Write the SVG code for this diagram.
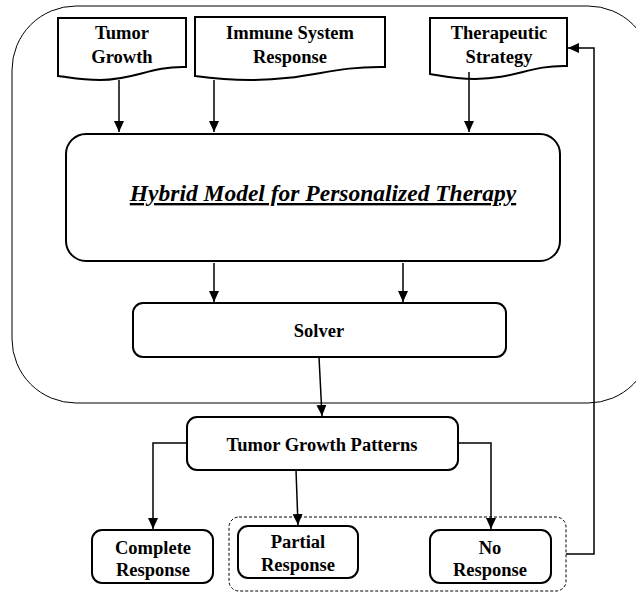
<svg xmlns="http://www.w3.org/2000/svg" width="636" height="592" viewBox="0 0 636 592">
<style>
.box{fill:#fff;stroke:#000;stroke-width:2}
.doc{fill:#fff;stroke:#000;stroke-width:2;stroke-linejoin:miter}
.t{font-family:"Liberation Serif","Times New Roman",serif;font-weight:bold;font-size:18.5px;text-anchor:middle;fill:#000}
.title{font-family:"Liberation Serif","Times New Roman",serif;font-weight:bold;font-style:italic;font-size:23.5px;text-anchor:middle;text-decoration:underline;fill:#000}
.c{fill:none;stroke:#000;stroke-width:1.5}
</style>
<defs>
<marker id="ah" markerUnits="userSpaceOnUse" markerWidth="12" markerHeight="10" refX="11" refY="5" orient="auto">
<path d="M0,0 L11,5 L0,10 Z" fill="#000"/>
</marker>
</defs>
<rect width="636" height="592" fill="#fff"/>
<g id="outer-boundary">
<rect x="12" y="6" width="640" height="397" rx="64" ry="64" fill="none" stroke="#000" stroke-width="1"/>
</g>
<g id="tumor-growth">
<path class="doc" d="M58,18 H186 V67 C150,66 135,80 100,80 C80,80 68,77 58,76 Z"/>
<text class="t" x="122" y="39">Tumor</text>
<text class="t" x="122" y="63">Growth</text>
</g>
<g id="immune-system-response">
<path class="doc" d="M195,17 H385 V67 C330,66 310,80 250,80 C225,80 210,78 195,76 Z"/>
<text class="t" x="290" y="39">Immune System</text>
<text class="t" x="290" y="63">Response</text>
</g>
<g id="therapeutic-strategy">
<path class="doc" d="M430,18 H567 V66 C530,65 515,79 475,79 C455,79 442,76 430,74 Z"/>
<text class="t" x="499" y="39">Therapeutic</text>
<text class="t" x="499" y="63">Strategy</text>
</g>
<g id="hybrid-model">
<rect class="box" x="66" y="134" width="494" height="127" rx="20" ry="20"/>
<text class="title" x="323" y="201">Hybrid Model for Personalized Therapy</text>
</g>
<g id="solver">
<rect class="box" x="133" y="303" width="373" height="54" rx="10" ry="10"/>
<text class="t" x="319" y="337">Solver</text>
</g>
<g id="tumor-growth-patterns">
<rect class="box" x="187" y="417" width="271" height="53" rx="10" ry="10"/>
<text class="t" x="322" y="451">Tumor Growth Patterns</text>
</g>
<g id="response-group">
<rect x="229" y="517" width="337" height="74" rx="10" ry="10" fill="none" stroke="#000" stroke-width="1" stroke-dasharray="3,2"/>
</g>
<g id="complete-response">
<rect class="box" x="92" y="530" width="121" height="53" rx="10" ry="10"/>
<text class="t" x="153" y="554">Complete</text>
<text class="t" x="153" y="576">Response</text>
</g>
<g id="partial-response">
<rect class="box" x="238" y="526" width="120" height="52" rx="10" ry="10"/>
<text class="t" x="298" y="548">Partial</text>
<text class="t" x="298" y="571">Response</text>
</g>
<g id="no-response">
<rect class="box" x="430" y="530" width="121" height="53" rx="10" ry="10"/>
<text class="t" x="490" y="554">No</text>
<text class="t" x="490" y="576">Response</text>
</g>
<g id="connectors">
<path class="c" d="M119,80 V132" marker-end="url(#ah)"/>
<path class="c" d="M214,80 V132" marker-end="url(#ah)"/>
<path class="c" d="M469,72 V132" marker-end="url(#ah)"/>
<path class="c" d="M214,263 V302" marker-end="url(#ah)"/>
<path class="c" d="M403,263 V302" marker-end="url(#ah)"/>
<path class="c" d="M319,357 L322,416" marker-end="url(#ah)"/>
<path class="c" d="M187,443 H153 V529" marker-end="url(#ah)"/>
<path class="c" d="M296,470 L298,525" marker-end="url(#ah)"/>
<path class="c" d="M458,443 H491 V529" marker-end="url(#ah)"/>
<path class="c" d="M566,554 H594 V48 H568" marker-end="url(#ah)"/>
</g>
</svg>
